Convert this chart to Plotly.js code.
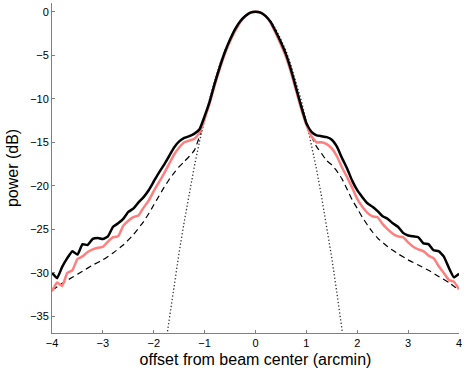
<!DOCTYPE html>
<html>
<head>
<meta charset="utf-8">
<script src="https://cdn.plot.ly/plotly-3.0.1.min.js"></script>
<style>
  html, body { margin: 0; padding: 0; background: #fff; }
  #beamPlot { width: 467px; height: 373px; }
</style>
</head>
<body>
<div id="beamPlot"></div>
<script>
// offset grid (arcmin) for the measured curves
const offset = [
  -4.0, -3.9, -3.8, -3.7, -3.6, -3.5, -3.4, -3.3, -3.2, -3.1,
  -3.0, -2.9, -2.8, -2.7, -2.6, -2.5, -2.4, -2.3, -2.2, -2.1,
  -2.0, -1.9, -1.8, -1.7, -1.6, -1.5, -1.4, -1.3, -1.2, -1.1,
  -1.0, -0.9, -0.8, -0.7, -0.6, -0.5, -0.4, -0.3, -0.2, -0.1,
  0.0, 0.1, 0.2, 0.3, 0.4, 0.5, 0.6, 0.7, 0.8, 0.9,
  1.0, 1.1, 1.2, 1.3, 1.4, 1.5, 1.6, 1.7, 1.8, 1.9,
  2.0, 2.1, 2.2, 2.3, 2.4, 2.5, 2.6, 2.7, 2.8, 2.9,
  3.0, 3.1, 3.2, 3.3, 3.4, 3.5, 3.6, 3.7, 3.8, 3.9, 4.0
];

// black: measured beam (dB)
const beamBlack = [
  -30.0, -30.6, -29.3, -28.3, -27.5, -27.9, -26.7, -26.8, -26.1, -26.0,
  -26.1, -25.8, -24.7, -24.3, -23.8, -23.0, -22.6, -21.9, -21.3, -20.5,
  -19.5, -18.5, -17.6, -16.6, -15.6, -14.9, -14.5, -14.3, -14.0, -13.5,
  -12.0, -10.3, -8.2, -6.3, -4.6, -3.2, -2.0, -1.1, -0.5, -0.1,
  0.0, -0.1, -0.5, -1.2, -2.3, -3.5, -4.9, -6.7, -8.8, -10.9,
  -12.8, -13.8, -14.2, -14.3, -14.4, -14.7, -15.5, -16.8, -18.0, -19.4,
  -20.5, -21.3, -22.0, -22.4, -22.9, -23.5, -23.8, -24.3, -24.7, -25.4,
  -25.7, -25.8, -25.9, -26.6, -26.7, -27.4, -27.5, -28.1, -29.4, -30.5, -30.1
];

// pink: second measured beam (dB)
const beamPink = [
  -32.1, -31.1, -31.5, -30.0, -29.7, -28.4, -28.1, -27.6, -27.3, -27.1,
  -27.0, -26.4, -25.9, -25.8, -24.6, -24.0, -23.6, -23.4, -22.5, -21.7,
  -20.6, -19.6, -18.6, -17.5, -16.4, -15.6, -15.0, -14.8, -14.6, -13.9,
  -12.3, -10.5, -8.4, -6.5, -4.8, -3.4, -2.2, -1.2, -0.5, -0.1,
  0.0, -0.1, -0.5, -1.3, -2.5, -3.8, -5.2, -7.0, -9.1, -11.2,
  -13.0, -14.3, -15.0, -15.0, -15.2, -15.7, -16.6, -17.9, -19.0, -20.2,
  -21.5, -22.4, -23.1, -23.5, -23.6, -24.4, -25.0, -25.5, -25.8, -25.9,
  -26.5, -27.0, -27.3, -27.5, -28.0, -28.3, -29.2, -30.0, -30.8, -31.0, -31.9
];

// dashed: model beam (dB)
const modelOffset = [
  -4.0, -3.8, -3.6, -3.4, -3.2, -3.0, -2.8, -2.6, -2.4, -2.2,
  -2.1, -2.0, -1.9, -1.8, -1.7, -1.6, -1.5, -1.4, -1.3, -1.2,
  -1.1, -1.0, -0.9, -0.8, -0.7, -0.6, -0.5, -0.4, -0.3, -0.2, -0.1,
  0.0, 0.1, 0.2, 0.3, 0.4, 0.5, 0.6, 0.7, 0.8, 0.9,
  1.0, 1.1, 1.2, 1.3, 1.4, 1.5, 1.6, 1.7, 1.8, 1.9,
  2.0, 2.1, 2.2, 2.3, 2.4, 2.6, 2.8, 3.0, 3.2, 3.4, 3.6, 3.8, 4.0
];
const modelBeam = [
  -32.0, -31.2, -30.5, -29.8, -29.1, -28.5, -27.7, -26.8, -25.6, -24.1,
  -23.2, -22.2, -21.2, -20.2, -19.3, -18.5, -17.8, -17.2, -16.6, -15.9,
  -14.3, -12.2, -10.3, -8.2, -6.3, -4.6, -3.2, -2.0, -1.1, -0.5, -0.1,
  0.0, -0.1, -0.5, -1.2, -2.3, -3.5, -4.9, -6.7, -8.8, -10.9,
  -12.8, -14.3, -15.5, -16.3, -17.1, -17.6, -18.3, -19.2, -20.4, -21.6,
  -22.6, -23.6, -24.5, -25.3, -26.0, -27.0, -27.8, -28.5, -29.1, -29.7, -30.4, -31.1, -32.0
];

// dotted: gaussian main beam (dB)
const gaussOffset = [
  -1.75, -1.7, -1.6, -1.5, -1.4, -1.3, -1.2, -1.1, -1.0, -0.9,
  -0.8, -0.7, -0.6, -0.5, -0.4, -0.3, -0.2, -0.1, 0.0,
  0.1, 0.2, 0.3, 0.4, 0.5, 0.6, 0.7, 0.8, 0.9, 1.0,
  1.1, 1.2, 1.3, 1.4, 1.5, 1.6, 1.7, 1.75
];
const gaussBeam = [
  -37.5, -35.5, -31.4, -27.6, -24.1, -20.8, -17.7, -14.9, -12.3, -10.0,
  -7.9, -6.0, -4.4, -3.1, -2.0, -1.1, -0.5, -0.1, 0.0,
  -0.1, -0.5, -1.1, -2.0, -3.2, -4.5, -6.2, -8.1, -10.2, -12.6,
  -15.2, -18.1, -21.3, -24.7, -28.3, -32.3, -36.4, -38.6
];

const xTicks = [-4, -3, -2, -1, 0, 1, 2, 3, 4];
const yTicks = [0, -5, -10, -15, -20, -25, -30, -35];

const data = [
  {
    x: gaussOffset, y: gaussBeam, mode: "lines", type: "scatter",
    line: { color: "#333333", width: 1.3, dash: "1.3px,2.2px" },
  },
  {
    x: modelOffset, y: modelBeam, mode: "lines", type: "scatter",
    line: { color: "#000000", width: 1.2, dash: "6px,4px", shape: "spline", smoothing: 0.5 },
  },
  {
    x: offset, y: beamPink, mode: "lines", type: "scatter",
    line: { color: "#ff7f7f", width: 2.5, shape: "spline", smoothing: 0.4 },
  },
  {
    x: offset, y: beamBlack, mode: "lines", type: "scatter",
    line: { color: "#000000", width: 2.5, shape: "spline", smoothing: 0.4 },
  },
];

const fontFamily = "Liberation Sans, Arial, sans-serif";
const tickFont = { family: fontFamily, size: 11, color: "#000" };
const titleFont = { family: fontFamily, size: 16, color: "#000" };

const layout = {
  width: 467,
  height: 373,
  margin: { l: 52, r: 8, t: 3, b: 40 },
  paper_bgcolor: "#fff",
  plot_bgcolor: "#fff",
  showlegend: false,
  font: tickFont,
  xaxis: {
    range: [-4, 4],
    tickvals: xTicks,
    ticktext: xTicks.map((v) => String(v).replace("-", "\u2212")),
    ticks: "inside",
    ticklen: 3,
    tickcolor: "#808080",
    showline: true,
    linecolor: "#808080",
    linewidth: 1,
    showgrid: false,
    zeroline: false,
    tickfont: tickFont,
    title: { text: "offset from beam center (arcmin)", font: titleFont, standoff: 5 },
  },
  yaxis: {
    range: [-36.9, 1.0],
    tickvals: yTicks,
    ticktext: yTicks.map((v) => String(v).replace("-", "\u2212")),
    ticks: "inside",
    ticklen: 3,
    tickcolor: "#808080",
    showline: true,
    linecolor: "#808080",
    linewidth: 1,
    showgrid: false,
    zeroline: false,
    tickfont: tickFont,
    title: { text: "power (dB)", font: titleFont, standoff: 7 },
  },
};

var config = { staticPlot: true, displayModeBar: false };

Plotly.newPlot("beamPlot", data, layout, config);
</script>
</body>
</html>
